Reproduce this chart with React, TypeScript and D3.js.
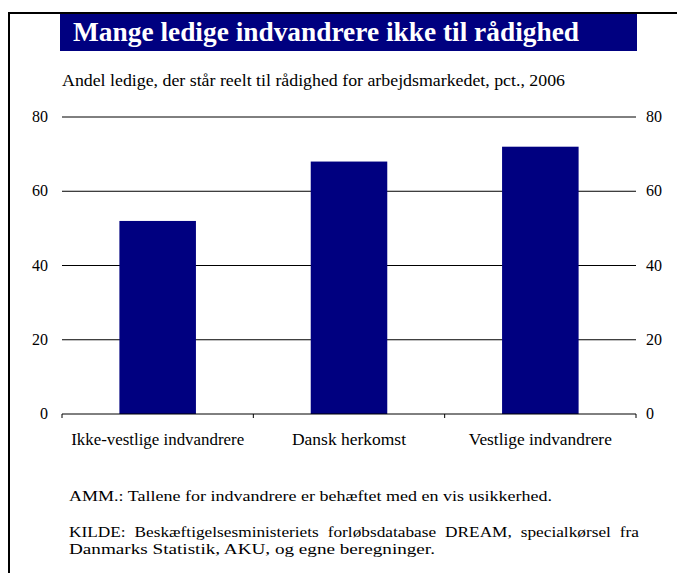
import React from "react";
import * as d3 from "d3";

const categories = ["Ikke-vestlige indvandrere", "Dansk herkomst", "Vestlige indvandrere"];
const values = [52, 68, 72];
const yTicks = [0, 20, 40, 60, 80];
const labelWidths = [173, 114, 143];

const title = "Mange ledige indvandrere ikke til rådighed";
const subtitle = "Andel ledige, der står reelt til rådighed for arbejdsmarkedet, pct., 2006";
const note = "AMM.: Tallene for indvandrere er behæftet med en vis usikkerhed.";
const source1 = "KILDE: Beskæftigelsesministeriets forløbsdatabase DREAM, specialkørsel fra";
const source2 = "Danmarks Statistik, AKU, og egne beregninger.";

const W = 677;
const H = 573;
const left = 62;
const right = 636;
const top = 117;
const bottom = 414;
const navy = "#000080";
const font = "'Liberation Serif', 'Times New Roman', serif";

export default function App() {
  const x = d3.scaleBand<string>().domain(categories).range([left, right]).paddingInner(0.6).paddingOuter(0.3);
  const y = d3.scaleLinear().domain([0, 80]).range([bottom, top]);
  const bandStep = (right - left) / categories.length;
  const tickXs = d3.range(categories.length + 1).map((i) => left + i * bandStep);
  const ts = { fontFamily: font };

  return (
    <svg width={W} height={H} style={{ position: "absolute", left: 0, top: 0, background: "#fff" }}>
      <line x1={9} y1={13} x2={W} y2={13} stroke="#000" strokeWidth={2} />
      <line x1={9} y1={12} x2={9} y2={H} stroke="#000" strokeWidth={2} />
      <rect x={60} y={14} width={577} height={37} fill={navy} />
      <text x={73} y={41} style={{ fontFamily: font, fontWeight: 700 }} fill="#fff" fontSize={27} textLength={506} lengthAdjust="spacingAndGlyphs">
        {title}
      </text>
      <text x={62} y={86} style={ts} fill="#000" fontSize={16} textLength={503} lengthAdjust="spacingAndGlyphs">
        {subtitle}
      </text>
      {yTicks.filter((t) => t > 0).map((t) => (
        <line key={t} x1={left} x2={right} y1={y(t)} y2={y(t)} stroke="#000" strokeWidth={1} />
      ))}
      {yTicks.map((t) => (
        <g key={"l" + t}>
          <text x={48} y={y(t) + 5} style={ts} textAnchor="end" fontSize={16} fill="#000">{t}</text>
          <text x={646} y={y(t) + 5} style={ts} textAnchor="start" fontSize={16} fill="#000">{t}</text>
        </g>
      ))}
      {categories.map((c, i) => (
        <rect key={c} x={x(c)} y={y(values[i])} width={x.bandwidth()} height={bottom - y(values[i])} fill={navy} />
      ))}
      <line x1={left} x2={right} y1={bottom} y2={bottom} stroke="#000" strokeWidth={1} />
      {tickXs.map((tx, i) => (
        <line key={"t" + i} x1={tx} x2={tx} y1={bottom} y2={bottom + 4} stroke="#000" strokeWidth={1} />
      ))}
      {categories.map((c, i) => (
        <text key={"c" + c} x={(x(c) as number) + x.bandwidth() / 2} y={445} style={ts} textAnchor="middle" fontSize={16} fill="#000"
          textLength={labelWidths[i]} lengthAdjust="spacingAndGlyphs">
          {c}
        </text>
      ))}
      <text x={69} y={501} style={ts} fontSize={15} fill="#000" textLength={483} lengthAdjust="spacingAndGlyphs">{note}</text>
      <text x={69} y={537} style={{ fontFamily: font, wordSpacing: "4px" }} fontSize={15} fill="#000" textLength={570} lengthAdjust="spacingAndGlyphs">{source1}</text>
      <text x={69} y={554} style={ts} fontSize={15} fill="#000" textLength={366} lengthAdjust="spacingAndGlyphs">{source2}</text>
    </svg>
  );
}
